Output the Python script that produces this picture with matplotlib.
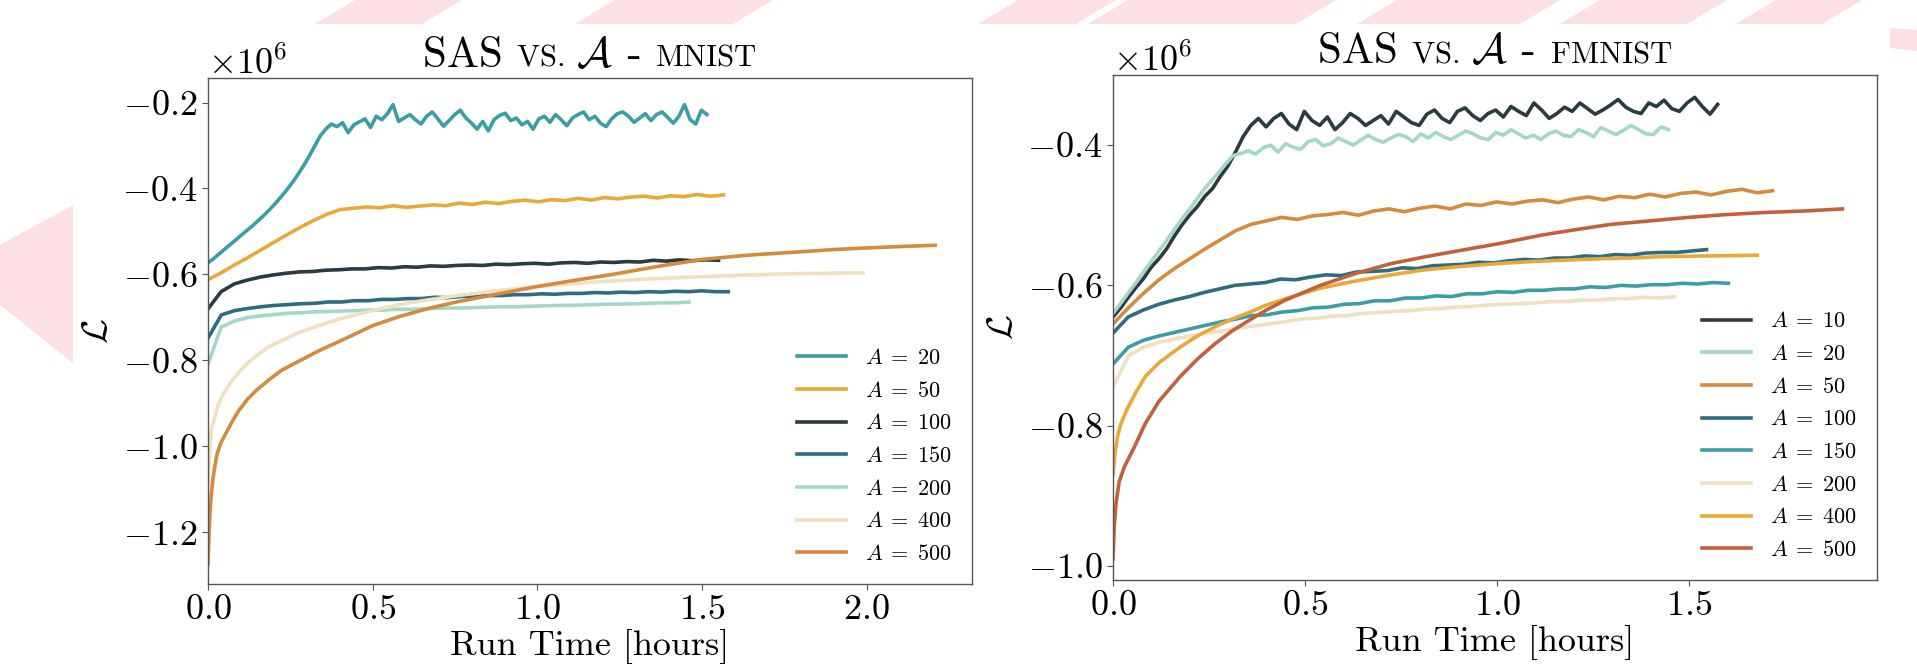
import numpy as np
import matplotlib
matplotlib.use("Agg")
import matplotlib.pyplot as plt
from matplotlib.offsetbox import TextArea, HPacker, AnchoredOffsetbox
from matplotlib.patches import Polygon

plt.rcParams.update({
    "font.family": "serif",
    "font.serif": ["cmr10"],
    "mathtext.fontset": "cm",
    "axes.formatter.use_mathtext": True,
})

# ---------------- data (loss values in units of 1e6, time in hours) ----------------
# MNIST: regularly sampled runs -> (run end time, values)
mn_end_20 = 1.515
mn_a20 = [-0.573, -0.563, -0.552, -0.541, -0.530, -0.519, -0.508, -0.497, -0.486, -0.474,
          -0.462, -0.449, -0.435, -0.420, -0.404, -0.387, -0.368, -0.348, -0.326, -0.302,
          -0.278,
          -0.262, -0.250, -0.256, -0.247, -0.270, -0.252, -0.245, -0.238, -0.258, -0.232,
          -0.240, -0.226, -0.205, -0.244, -0.236, -0.228, -0.240, -0.250, -0.232, -0.222,
          -0.238, -0.255, -0.242, -0.228, -0.218, -0.236, -0.248, -0.262, -0.244, -0.266,
          -0.240, -0.230, -0.225, -0.242, -0.236, -0.252, -0.244, -0.262, -0.238, -0.232,
          -0.246, -0.228, -0.240, -0.254, -0.236, -0.228, -0.222, -0.240, -0.232, -0.248,
          -0.256, -0.238, -0.226, -0.222, -0.232, -0.246, -0.236, -0.226, -0.242, -0.228,
          -0.222, -0.235, -0.248, -0.232, -0.205, -0.240, -0.250, -0.218, -0.228]
mn_end_50 = 1.565
mn_a50 = [-0.612, -0.596, -0.578, -0.561, -0.543, -0.525, -0.507, -0.490, -0.474, -0.460,
          -0.449, -0.446, -0.443, -0.445, -0.440, -0.444, -0.441, -0.438, -0.440, -0.434,
          -0.437, -0.432, -0.435, -0.430, -0.427, -0.431, -0.426, -0.428, -0.423, -0.427,
          -0.421, -0.424, -0.420, -0.418, -0.422, -0.417, -0.419, -0.414, -0.418, -0.415]
mn_end_100 = 1.55
mn_a100 = [-0.680, -0.640, -0.622, -0.613, -0.606, -0.601, -0.597, -0.594, -0.593, -0.590,
           -0.589, -0.587, -0.587, -0.584, -0.585, -0.582, -0.583, -0.580, -0.581, -0.579,
           -0.578, -0.579, -0.576, -0.577, -0.575, -0.574, -0.576, -0.573, -0.572, -0.574,
           -0.571, -0.572, -0.570, -0.571, -0.567, -0.569, -0.566, -0.568, -0.566, -0.567]
mn_end_150 = 1.58
mn_a150 = [-0.748, -0.694, -0.684, -0.679, -0.675, -0.672, -0.670, -0.668, -0.667, -0.664,
           -0.664, -0.661, -0.661, -0.658, -0.658, -0.656, -0.656, -0.653, -0.654, -0.651,
           -0.651, -0.649, -0.649, -0.647, -0.647, -0.645, -0.646, -0.644, -0.644, -0.642,
           -0.643, -0.641, -0.642, -0.640, -0.641, -0.639, -0.640, -0.638, -0.640, -0.640]
mn_end_200 = 1.46
mn_a200 = [-0.808, -0.722, -0.708, -0.700, -0.696, -0.693, -0.690, -0.689, -0.687, -0.686,
           -0.685, -0.684, -0.683, -0.683, -0.681, -0.681, -0.680, -0.679, -0.678, -0.678,
           -0.677, -0.676, -0.675, -0.675, -0.674, -0.673, -0.672, -0.672, -0.671, -0.670,
           -0.669, -0.669, -0.668, -0.667, -0.666, -0.666, -0.664]
# MNIST smooth runs -> explicit (time, value)
mn_t400 = [0, 0.006, 0.01, 0.019, 0.03, 0.046, 0.07, 0.093, 0.12, 0.149, 0.18, 0.223, 0.27,
           0.335, 0.4, 0.5, 0.58, 0.669, 0.76, 0.855, 0.92, 1.0, 1.1, 1.227, 1.35, 1.5,
           1.65, 1.784, 1.989]
mn_a400 = [-1.086, -1.007, -0.96, -0.937, -0.905, -0.878, -0.85, -0.828, -0.806, -0.788,
           -0.77, -0.754, -0.737, -0.719, -0.703, -0.684, -0.67, -0.659, -0.649, -0.64,
           -0.634, -0.628, -0.622, -0.615, -0.61, -0.605, -0.601, -0.598, -0.596]
mn_t500 = [0, 0.003, 0.006, 0.01, 0.015, 0.021, 0.028, 0.04, 0.056, 0.075, 0.093, 0.12,
           0.149, 0.185, 0.223, 0.28, 0.335, 0.42, 0.5, 0.58, 0.669, 0.76, 0.855, 0.93,
           1.0, 1.11, 1.227, 1.36, 1.5, 1.64, 1.784, 1.9, 2.007, 2.1, 2.208]
mn_a500 = [-1.274, -1.21, -1.155, -1.11, -1.076, -1.045, -1.016, -0.99, -0.967, -0.94,
           -0.917, -0.89, -0.868, -0.845, -0.823, -0.8, -0.778, -0.748, -0.719, -0.698,
           -0.679, -0.663, -0.649, -0.638, -0.628, -0.614, -0.6, -0.582, -0.565, -0.555,
           -0.548, -0.542, -0.538, -0.535, -0.532]

# FMNIST
fm_end_10 = 1.575
fm_a10 = [-0.645, -0.632, -0.617, -0.603, -0.590, -0.574, -0.562, -0.548, -0.530, -0.514,
          -0.500, -0.488, -0.473, -0.462, -0.445, -0.430, -0.410, -0.388, -0.372, -0.362,
          -0.374, -0.362, -0.355, -0.370, -0.378, -0.352, -0.365, -0.372, -0.360, -0.378,
          -0.368, -0.355, -0.362, -0.372, -0.365, -0.358, -0.370, -0.352, -0.360, -0.368,
          -0.372, -0.356, -0.350, -0.362, -0.368, -0.352, -0.347, -0.358, -0.365, -0.355,
          -0.350, -0.360, -0.345, -0.352, -0.358, -0.340, -0.350, -0.362, -0.355, -0.346,
          -0.352, -0.340, -0.348, -0.356, -0.350, -0.343, -0.335, -0.346, -0.352, -0.355,
          -0.340, -0.345, -0.336, -0.348, -0.352, -0.340, -0.332, -0.345, -0.356, -0.342]
fm_end_20 = 1.447
fm_a20 = [-0.640, -0.626, -0.611, -0.597, -0.582, -0.567, -0.553, -0.538, -0.523, -0.508,
          -0.494, -0.480, -0.465, -0.452, -0.440, -0.427, -0.415,
          -0.412, -0.408, -0.413, -0.404, -0.400, -0.410, -0.398, -0.403, -0.406, -0.395,
          -0.392, -0.401, -0.398, -0.390, -0.395, -0.400, -0.393, -0.386, -0.392, -0.396,
          -0.390, -0.385, -0.388, -0.395, -0.384, -0.390, -0.382, -0.388, -0.392, -0.386,
          -0.380, -0.384, -0.390, -0.392, -0.382, -0.386, -0.378, -0.384, -0.390, -0.386,
          -0.392, -0.384, -0.380, -0.386, -0.388, -0.378, -0.382, -0.388, -0.375, -0.380,
          -0.385, -0.379, -0.372, -0.378, -0.384, -0.385, -0.374, -0.378]
fm_end_50 = 1.718
fm_a50 = [-0.655, -0.632, -0.611, -0.592, -0.576, -0.562, -0.548, -0.535, -0.522, -0.513,
          -0.508, -0.503, -0.506, -0.501, -0.499, -0.496, -0.500, -0.494, -0.491, -0.495,
          -0.490, -0.487, -0.491, -0.484, -0.486, -0.481, -0.484, -0.480, -0.478, -0.482,
          -0.477, -0.474, -0.478, -0.473, -0.475, -0.470, -0.474, -0.469, -0.467, -0.471,
          -0.466, -0.463, -0.468, -0.465]
fm_end_100 = 1.546
fm_a100 = [-0.668, -0.645, -0.635, -0.627, -0.621, -0.616, -0.610, -0.605, -0.600, -0.598,
           -0.596, -0.591, -0.592, -0.588, -0.585, -0.586, -0.581, -0.580, -0.579, -0.575,
           -0.576, -0.572, -0.571, -0.570, -0.567, -0.568, -0.565, -0.563, -0.564, -0.561,
           -0.561, -0.558, -0.559, -0.556, -0.557, -0.554, -0.553, -0.553, -0.551, -0.549]
fm_end_150 = 1.603
fm_a150 = [-0.712, -0.688, -0.678, -0.672, -0.667, -0.662, -0.657, -0.652, -0.648, -0.643,
           -0.642, -0.638, -0.636, -0.632, -0.631, -0.627, -0.626, -0.622, -0.622, -0.618,
           -0.618, -0.615, -0.616, -0.612, -0.612, -0.609, -0.610, -0.607, -0.607, -0.605,
           -0.605, -0.602, -0.603, -0.600, -0.601, -0.599, -0.599, -0.597, -0.598, -0.596,
           -0.597]
fm_end_200 = 1.463
fm_a200 = [-0.745, -0.700, -0.688, -0.681, -0.676, -0.672, -0.668, -0.665, -0.661, -0.658,
           -0.655, -0.652, -0.648, -0.647, -0.644, -0.643, -0.640, -0.639, -0.637, -0.636,
           -0.634, -0.633, -0.631, -0.630, -0.628, -0.627, -0.626, -0.625, -0.623, -0.623,
           -0.621, -0.621, -0.619, -0.619, -0.617, -0.618, -0.616]
fm_t400 = [0, 0.005, 0.012, 0.02, 0.038, 0.06, 0.084, 0.12, 0.175, 0.22, 0.266, 0.31, 0.357,
           0.4, 0.449, 0.54, 0.63, 0.724, 0.81, 0.907, 1.0, 1.09, 1.18, 1.273, 1.35, 1.43,
           1.55, 1.678]
fm_a400 = [-0.87, -0.84, -0.815, -0.798, -0.775, -0.752, -0.73, -0.71, -0.688, -0.672,
           -0.659, -0.648, -0.638, -0.628, -0.619, -0.604, -0.594, -0.585, -0.578, -0.573,
           -0.569, -0.566, -0.564, -0.562, -0.561, -0.559, -0.558, -0.557]
fm_t500 = [0, 0.003, 0.008, 0.016, 0.03, 0.056, 0.084, 0.12, 0.175, 0.22, 0.266, 0.31,
           0.357, 0.4, 0.449, 0.54, 0.632, 0.724, 0.815, 0.907, 1.0, 1.12, 1.2, 1.297, 1.4,
           1.5, 1.6, 1.7, 1.8, 1.9]
fm_a500 = [-0.99, -0.945, -0.91, -0.88, -0.858, -0.83, -0.797, -0.765, -0.73, -0.705,
           -0.683, -0.665, -0.649, -0.635, -0.621, -0.6, -0.583, -0.569, -0.559, -0.55,
           -0.541, -0.528, -0.521, -0.513, -0.508, -0.503, -0.499, -0.496, -0.494, -0.491]

C_TEAL, C_GOLD, C_DARK = "#3a9ea5", "#e9a93a", "#2b3b41"
C_DTEAL, C_MINT, C_CREAM = "#2c6e80", "#a3d8c8", "#efe1c0"
C_OCHRE, C_RUST = "#d68a3c", "#c4603a"


def grid(end, vals):
    return np.linspace(0, end, len(vals)), vals


mnist = [
    (20, *grid(mn_end_20, mn_a20), C_TEAL),
    (50, *grid(mn_end_50, mn_a50), C_GOLD),
    (100, *grid(mn_end_100, mn_a100), C_DARK),
    (150, *grid(mn_end_150, mn_a150), C_DTEAL),
    (200, *grid(mn_end_200, mn_a200), C_MINT),
    (400, mn_t400, mn_a400, C_CREAM),
    (500, mn_t500, mn_a500, C_OCHRE),
]
fmnist = [
    (10, *grid(fm_end_10, fm_a10), C_DARK),
    (20, *grid(fm_end_20, fm_a20), C_MINT),
    (50, *grid(fm_end_50, fm_a50), C_OCHRE),
    (100, *grid(fm_end_100, fm_a100), C_DTEAL),
    (150, *grid(fm_end_150, fm_a150), C_TEAL),
    (200, *grid(fm_end_200, fm_a200), C_CREAM),
    (400, fm_t400, fm_a400, C_GOLD),
    (500, fm_t500, fm_a500, C_RUST),
]


def add_title(ax, dataset):
    # "SAS vs. A - MNIST" with the small-caps words drawn smaller
    big, small = 31, 22
    parts = [TextArea("SAS ", textprops=dict(size=big)),
             TextArea("VS. ", textprops=dict(size=small)),
             TextArea(r"$\mathcal{A}$", textprops=dict(size=big)),
             TextArea(" - ", textprops=dict(size=big)),
             TextArea(dataset, textprops=dict(size=small))]
    box = HPacker(children=parts, align="baseline", pad=0, sep=0)
    ab = AnchoredOffsetbox(loc="lower center", child=box, bbox_to_anchor=(0.5, 1.0),
                           bbox_transform=ax.transAxes, frameon=False, pad=0, borderpad=0.25)
    ax.add_artist(ab)


def draw_panel(ax, series, dataset, xlim, ylim, xticks, yticks):
    for a, t, v, color in series:
        ax.plot(t, np.array(v) * 1e6, color=color, lw=2.6, label=rf"$A\;=\;{a}$")
    ax.set_xlim(*xlim)
    ax.set_ylim(ylim[0] * 1e6, ylim[1] * 1e6)
    ax.set_xticks(xticks)
    ax.set_yticks(np.array(yticks) * 1e6)
    ax.tick_params(labelsize=26, length=4, width=0.8, color="#555555")
    for sp in ax.spines.values():
        sp.set_color("#555555")
        sp.set_linewidth(1.0)
    ax.yaxis.get_offset_text().set_fontsize(26)
    ax.set_xlabel("Run Time [hours]", fontsize=26, labelpad=2)
    ax.set_ylabel(r"$\mathcal{L}$", fontsize=26, labelpad=6)
    ax.legend(loc="lower right", frameon=False, fontsize=16, handlelength=2.2,
              handletextpad=0.85, labelspacing=0.57)
    add_title(ax, dataset)


fig = plt.figure(figsize=(19.17, 6.69), dpi=100)

# pale pink slide decoration behind the plots (figure pixel coords, y from top)
W, H = 1917, 669
pink = "#fde0e4"
shapes = [
    [(315, 24), (422, 24), (462, 0), (355, 0)],
    [(575, 24), (733, 24), (773, 0), (615, 0)],
    [(978, 24), (1076, 24), (1116, 0), (1018, 0)],
    [(1088, 24), (1296, 24), (1336, 0), (1128, 0)],
    [(1357, 24), (1520, 24), (1560, 0), (1397, 0)],
    [(1560, 24), (1687, 24), (1727, 0), (1600, 0)],
    [(1736, 24), (1822, 24), (1862, 0), (1776, 0)],
    [(1890, 28), (1917, 30), (1917, 51), (1890, 48)],
    [(73, 205), (0, 245), (0, 305), (73, 363)],
]
for pts in shapes:
    fig.patches.append(Polygon([(x / W, 1 - y / H) for x, y in pts], closed=True,
                               transform=fig.transFigure, facecolor=pink,
                               edgecolor="none", zorder=0))

ax1 = fig.add_axes([0.1085, 0.127, 0.3986, 0.7564])
ax2 = fig.add_axes([0.5806, 0.133, 0.3985, 0.755])

draw_panel(ax1, mnist, "MNIST", (0, 2.32), (-1.32, -0.143),
           [0.0, 0.5, 1.0, 1.5, 2.0], [-1.2, -1.0, -0.8, -0.6, -0.4, -0.2])
draw_panel(ax2, fmnist, "FMNIST", (0, 1.99), (-1.02, -0.300),
           [0.0, 0.5, 1.0, 1.5], [-1.0, -0.8, -0.6, -0.4])

fig.savefig("out.png", dpi=100)
